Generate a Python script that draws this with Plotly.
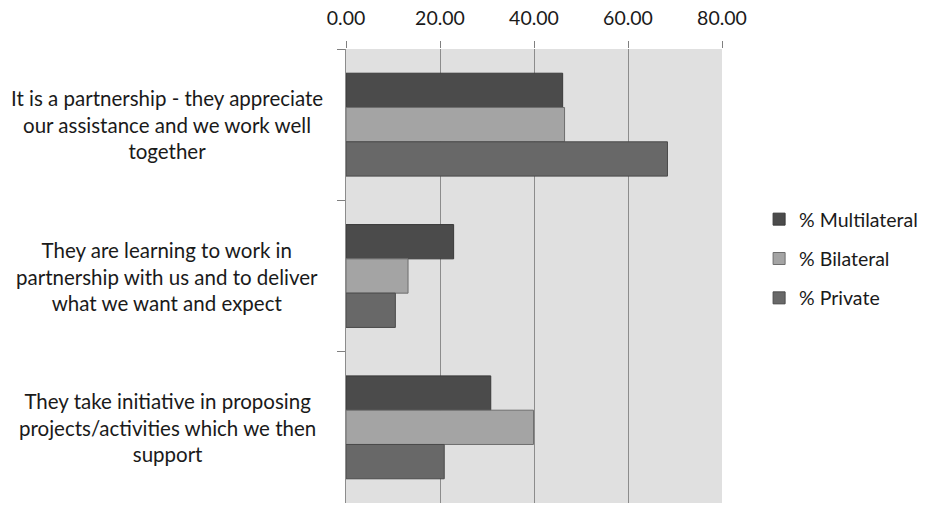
import plotly.graph_objects as go

categories = [
    "It is a partnership - they appreciate<br>our assistance and we work well<br>together",
    "They are learning to work in<br>partnership with us and to deliver<br>what we want and expect",
    "They take initiative in proposing<br>projects/activities which we then<br>support",
]
cat_keys = ["c1", "c2", "c3"]
multilateral = [46.1, 22.9, 30.8]
bilateral = [46.5, 13.2, 39.9]
private = [68.4, 10.5, 20.9]
x_ticks = [0, 20, 40, 60, 80]

series = [
    ("% Multilateral", multilateral, "#4b4b4b", "#3a3a3a"),
    ("% Bilateral", bilateral, "#a4a4a4", "#6e6e6e"),
    ("% Private", private, "#686868", "#4a4a4a"),
]

FONT = "Lato, Carlito, Calibri, 'Open Sans', sans-serif"
TXT = "#1a1a1a"

fig = go.Figure()
for name, vals, color, lc in series:
    fig.add_trace(go.Bar(
        y=cat_keys, x=vals, name=name, orientation="h",
        marker=dict(color=color, line=dict(color=lc, width=1)),
        legendgroup=name,
    ))

for key, label in zip(cat_keys, categories):
    fig.add_annotation(
        x=-0.475, xref="paper", y=key, yref="y", text=label,
        showarrow=False, align="center", xanchor="center", yanchor="middle",
        font=dict(family=FONT, size=20.5, color=TXT),
    )

fig.update_layout(
    width=928, height=505,
    margin=dict(l=346, r=206, t=49, b=2),
    paper_bgcolor="white",
    plot_bgcolor="#e0e0e0",
    barmode="group",
    bargap=0.32,
    bargroupgap=0,
    font=dict(family=FONT, size=20, color=TXT),
    legend=dict(
        xref="container", yref="container",
        x=0.818, y=0.604, xanchor="left", yanchor="top",
        font=dict(family=FONT, size=19.5, color=TXT),
        traceorder="grouped", tracegroupgap=11,
        itemwidth=30,
        bgcolor="rgba(0,0,0,0)",
    ),
    xaxis=dict(
        side="top", range=[0, 80], tickvals=x_ticks,
        tickformat=".2f", ticks="outside", ticklen=7, tickcolor="#808080",
        ticklabelstandoff=8,
        showgrid=True, gridcolor="#8c8c8c", gridwidth=1,
        zeroline=False, showline=False, fixedrange=True,
        tickfont=dict(family=FONT, size=19.5, color=TXT),
    ),
    yaxis=dict(
        autorange="reversed", showticklabels=False,
        ticks="outside", tickson="boundaries", ticklen=8, tickcolor="#808080",
        showline=True, linecolor="#8c8c8c", linewidth=1,
        showgrid=False, zeroline=False,
    ),
    showlegend=True,
)

fig.write_html("out.html")
